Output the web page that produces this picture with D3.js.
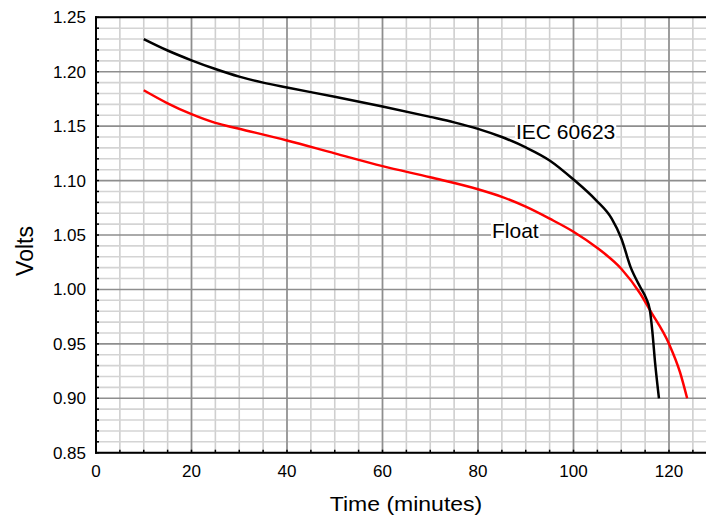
<!DOCTYPE html>
<html>
<head>
<meta charset="utf-8">
<script src="https://cdn.jsdelivr.net/npm/d3@7"></script>
<style>
  body { margin: 0; background: #fff; }
  svg { display: block; font-family: "Liberation Sans", Arial, sans-serif; }
</style>
</head>
<body>
<div id="chart"></div>
<script>
// data (minutes, volts)
const iecTime  = [10, 15, 20, 25, 30, 35, 40, 50, 60, 70, 75, 80, 85, 90, 95, 100, 104.7, 108, 110, 112, 114, 115.2, 116, 116.5, 117.1, 117.9];
const iecVolts = [1.230, 1.2195, 1.2105, 1.2025, 1.1955, 1.190, 1.1855, 1.177, 1.168, 1.1585, 1.1535, 1.1475, 1.140, 1.1305, 1.1185, 1.101, 1.082, 1.065, 1.047, 1.020, 1.002, 0.992, 0.981, 0.962, 0.932, 0.900];
const floatTime  = [10, 15, 20, 25, 30, 40, 50, 60, 70, 80, 85, 90, 95, 100, 105, 110, 114, 116, 120, 122.3, 123.8];
const floatVolts = [1.183, 1.171, 1.161, 1.153, 1.1476, 1.1368, 1.125, 1.1133, 1.103, 1.092, 1.085, 1.076, 1.065, 1.053, 1.038, 1.019, 0.996, 0.981, 0.950, 0.924, 0.900];
const xTicks = [0, 20, 40, 60, 80, 100, 120];
const yTicks = [0.85, 0.90, 0.95, 1.00, 1.05, 1.10, 1.15, 1.20, 1.25];

const W = 706, H = 519;

const svg = d3.select("#chart").append("svg")
    .attr("width", W)
    .attr("height", H);

// x: 0 at 96px, 120 at 669px ; y: 1.25 at 17px, 0.85 at 453px
const x = d3.scaleLinear().domain([0, 130]).range([96, 96 + 130 * 4.775]);
const y = d3.scaleLinear().domain([0.85, 1.25]).range([452.7, 17.3]);

const g = svg.append("g");

// grid
g.selectAll(".vminor")
    .data(d3.range(0, 131, 5))
    .join("line")
    .attr("x1", d => x(d)).attr("x2", d => x(d))
    .attr("y1", y(1.25)).attr("y2", y(0.85))
    .attr("stroke", "#cfcfcf")
    .attr("stroke-width", 1.6);

g.selectAll(".hgrid")
    .data(d3.range(85, 126, 1).map(d => d / 100))
    .join("line")
    .attr("x1", x(0)).attr("x2", W)
    .attr("y1", d => y(d)).attr("y2", d => y(d))
    .attr("stroke", d => Math.round(d * 100) % 5 === 0 ? "#8e8e8e" : "#d4d4d4")
    .attr("stroke-width", 1.6);

g.selectAll(".vmajor")
    .data(d3.range(20, 131, 20))
    .join("line")
    .attr("x1", d => x(d)).attr("x2", d => x(d))
    .attr("y1", y(1.25)).attr("y2", y(0.85))
    .attr("stroke", "#8e8e8e")
    .attr("stroke-width", 1.6);

// frame
g.append("line")
    .attr("x1", x(0)).attr("x2", x(0))
    .attr("y1", y(1.25) - 1).attr("y2", y(0.85) + 1)
    .attr("stroke", "#000").attr("stroke-width", 2);
g.append("line")
    .attr("x1", x(0) - 1).attr("x2", W)
    .attr("y1", y(0.85)).attr("y2", y(0.85))
    .attr("stroke", "#000").attr("stroke-width", 2);
g.append("line")
    .attr("x1", x(0) - 1).attr("x2", W)
    .attr("y1", y(1.25)).attr("y2", y(1.25))
    .attr("stroke", "#000").attr("stroke-width", 2);

// small inward ticks
g.selectAll(".ytick")
    .data(d3.range(85, 126, 1).map(d => d / 100))
    .join("line")
    .attr("x1", x(0)).attr("x2", x(0) + 3)
    .attr("y1", d => y(d)).attr("y2", d => y(d))
    .attr("stroke", "#000").attr("stroke-width", 1.5);
g.selectAll(".xtick")
    .data(d3.range(0, 131, 5))
    .join("line")
    .attr("x1", d => x(d)).attr("x2", d => x(d))
    .attr("y1", y(0.85)).attr("y2", y(0.85) - 3)
    .attr("stroke", "#000").attr("stroke-width", 1.5);

// tick labels
g.selectAll(".ylab")
    .data(yTicks)
    .join("text")
    .attr("x", 86)
    .attr("y", d => y(d) + 6)
    .attr("text-anchor", "end")
    .attr("font-size", 17)
    .text(d => d.toFixed(2));

g.selectAll(".xlab")
    .data(xTicks)
    .join("text")
    .attr("x", d => x(d))
    .attr("y", 477)
    .attr("text-anchor", "middle")
    .attr("font-size", 17)
    .text(d => d);

// axis titles
svg.append("text")
    .attr("transform", "translate(33,251) rotate(-90)")
    .attr("text-anchor", "middle")
    .attr("font-size", 23)
    .text("Volts");
svg.append("text")
    .attr("transform", "translate(406,511) scale(1,0.85)")
    .attr("text-anchor", "middle")
    .attr("font-size", 23)
    .text("Time (minutes)");

// curves
const line = d3.line()
    .x(d => x(d[0]))
    .y(d => y(d[1]))
    .curve(d3.curveMonotoneX);

const iec = iecTime.map((t, i) => [t, iecVolts[i]]);
const flt = floatTime.map((t, i) => [t, floatVolts[i]]);

svg.append("path")
    .datum(flt)
    .attr("fill", "none")
    .attr("stroke", "#ff0000")
    .attr("stroke-width", 2.5)
    .attr("d", line);

svg.append("path")
    .datum(iec)
    .attr("fill", "none")
    .attr("stroke", "#000")
    .attr("stroke-width", 2.5)
    .attr("d", line);

// series labels on white boxes
function label(txt, lx, ly) {
    const t = svg.append("text")
        .attr("x", lx).attr("y", ly)
        .attr("font-size", 21)
        .text(txt);
    const bb = t.node().getBBox();
    svg.insert("rect", function() { return t.node(); })
        .attr("x", bb.x - 1).attr("y", bb.y + 3)
        .attr("width", bb.width + 2).attr("height", bb.height - 6)
        .attr("fill", "#fff");
}

label("IEC 60623", 516, 139);
label("Float", 492, 238);
</script>
</body>
</html>
